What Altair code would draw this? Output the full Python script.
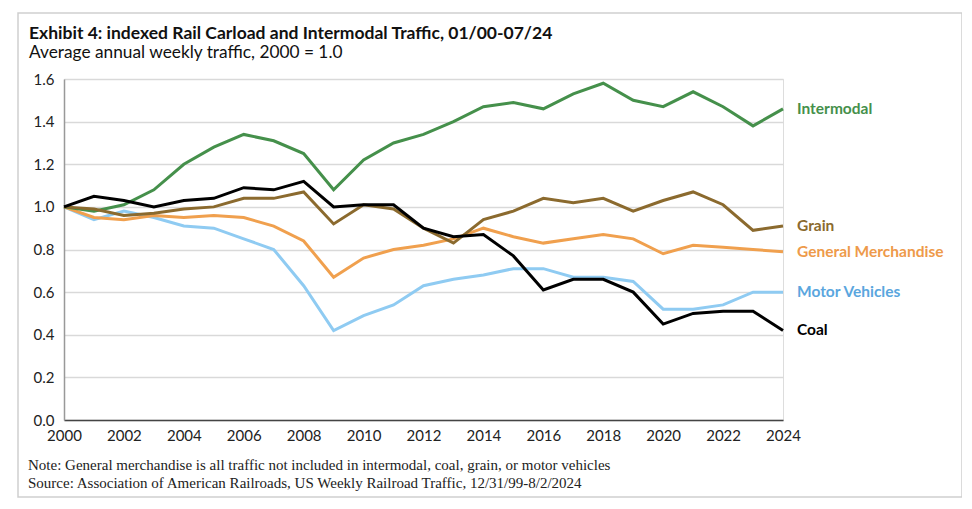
import altair as alt
import pandas as pd

years = list(range(2000, 2025))
intermodal = [1.00, 0.98, 1.01, 1.08, 1.20, 1.28, 1.34, 1.31, 1.25, 1.08, 1.22, 1.30, 1.34, 1.40, 1.47,
              1.49, 1.46, 1.53, 1.58, 1.50, 1.47, 1.54, 1.47, 1.38, 1.46]
grain = [1.00, 0.99, 0.96, 0.97, 0.99, 1.00, 1.04, 1.04, 1.07, 0.92, 1.01, 0.99, 0.90, 0.83, 0.94,
         0.98, 1.04, 1.02, 1.04, 0.98, 1.03, 1.07, 1.01, 0.89, 0.91]
general_merch = [1.00, 0.95, 0.94, 0.96, 0.95, 0.96, 0.95, 0.91, 0.84, 0.67, 0.76, 0.80, 0.82, 0.85, 0.90,
                 0.86, 0.83, 0.85, 0.87, 0.85, 0.78, 0.82, 0.81, 0.80, 0.79]
motor_vehicles = [1.00, 0.94, 0.98, 0.95, 0.91, 0.90, 0.85, 0.80, 0.63, 0.42, 0.49, 0.54, 0.63, 0.66, 0.68,
                  0.71, 0.71, 0.67, 0.67, 0.65, 0.52, 0.52, 0.54, 0.60, 0.60]
coal = [1.00, 1.05, 1.03, 1.00, 1.03, 1.04, 1.09, 1.08, 1.12, 1.00, 1.01, 1.01, 0.90, 0.86, 0.87,
        0.77, 0.61, 0.66, 0.66, 0.60, 0.45, 0.50, 0.51, 0.51, 0.42]

series_names = ["Motor Vehicles", "General Merchandise", "Intermodal", "Grain", "Coal"]
series_values = [motor_vehicles, general_merch, intermodal, grain, coal]
line_colors = ["#8FCBF2", "#F0A04E", "#45904B", "#8B6A2E", "#000000"]
label_colors = ["#5AA6DE", "#EE9A4A", "#45904B", "#8B6A2E", "#000000"]

x_ticks = list(range(2000, 2025, 2))
y_ticks = [0.0, 0.2, 0.4, 0.6, 0.8, 1.0, 1.2, 1.4, 1.6]

title_text = "Exhibit 4: indexed Rail Carload and Intermodal Traffic, 01/00-07/24"
subtitle_text = "Average annual weekly traffic, 2000 = 1.0"
notes = [
    "Note: General merchandise is all traffic not included in intermodal, coal, grain, or motor vehicles",
    "Source: Association of American Railroads, US Weekly Railroad Traffic, 12/31/99-8/2/2024",
]

rows = []
for name, vals in zip(series_names, series_values):
    for y, v in zip(years, vals):
        rows.append({"year": y, "value": v, "series": name})
df = pd.DataFrame(rows)
last = df[df["year"] == years[-1]].copy()

W, H = 719, 341

color_scale = alt.Scale(domain=series_names, range=line_colors)
label_scale = alt.Scale(domain=series_names, range=label_colors)

x_enc = alt.X("year:Q", scale=alt.Scale(domain=[2000, 2024], nice=False),
              axis=alt.Axis(values=x_ticks, format="d", title=None, grid=False, ticks=False,
                            labelFontSize=15, labelColor="#222", labelPadding=8, labelFlush=False,
                            domainColor="#444", domainWidth=1.5, labelFont="Lato"))
y_enc = alt.Y("value:Q", scale=alt.Scale(domain=[0, 1.6], nice=False),
              axis=alt.Axis(values=y_ticks, format=".1f", title=None, ticks=False,
                            labelFontSize=15, labelColor="#222", labelPadding=10,
                            domainColor="#999", domainWidth=1.5, gridColor="#d9d9d9",
                            gridWidth=1.5, labelFont="Lato"))

lines = alt.Chart(df).mark_line(strokeWidth=3).encode(
    x=x_enc, y=y_enc,
    color=alt.Color("series:N", scale=color_scale, legend=None),
    order=alt.Order("year:Q"),
)

labels = alt.Chart(last).mark_text(align="left", baseline="middle", dx=14, fontSize=15.5,
                                   fontWeight="bold", font="Lato").encode(
    x="year:Q", y="value:Q",
    text="series:N",
    color=alt.Color("series:N", scale=label_scale, legend=None),
)

notes_df = pd.DataFrame({"text": ["\n".join(notes)]})
note_marks = alt.Chart(notes_df).mark_text(align="left", baseline="middle", fontSize=15,
                                           font="Liberation Serif", color="#222",
                                           lineBreak="\n", lineHeight=18).encode(
    x=alt.value(-36), y=alt.value(H + 45), text="text:N",
)

title_df = pd.DataFrame({"t": [title_text], "s": [subtitle_text]})
title_mark = alt.Chart(title_df).mark_text(align="left", baseline="middle", fontSize=17.5,
                                           fontWeight="bold", font="Lato", color="#111").encode(
    x=alt.value(-35), y=alt.value(-45), text="t:N")
subtitle_mark = alt.Chart(title_df).mark_text(align="left", baseline="middle", fontSize=17.3,
                                              font="Lato", color="#111").encode(
    x=alt.value(-35), y=alt.value(-26), text="s:N")

frame = alt.Chart(pd.DataFrame({"a": [0]})).mark_rect(fill=None, stroke="#cfcfcf", strokeWidth=1.5).encode(
    x=alt.value(-46), x2=alt.value(898), y=alt.value(-66), y2=alt.value(418),
)

chart = alt.layer(frame, lines, labels, note_marks, title_mark, subtitle_mark).resolve_scale(
    color="independent").properties(
    width=W, height=H,
    autosize="none",
    padding={"left": 56, "top": 71, "right": 179, "bottom": 81},
).configure_view(stroke=None).configure(background="white")

chart.save("out.html", embed_options={"renderer": "svg", "actions": False})
